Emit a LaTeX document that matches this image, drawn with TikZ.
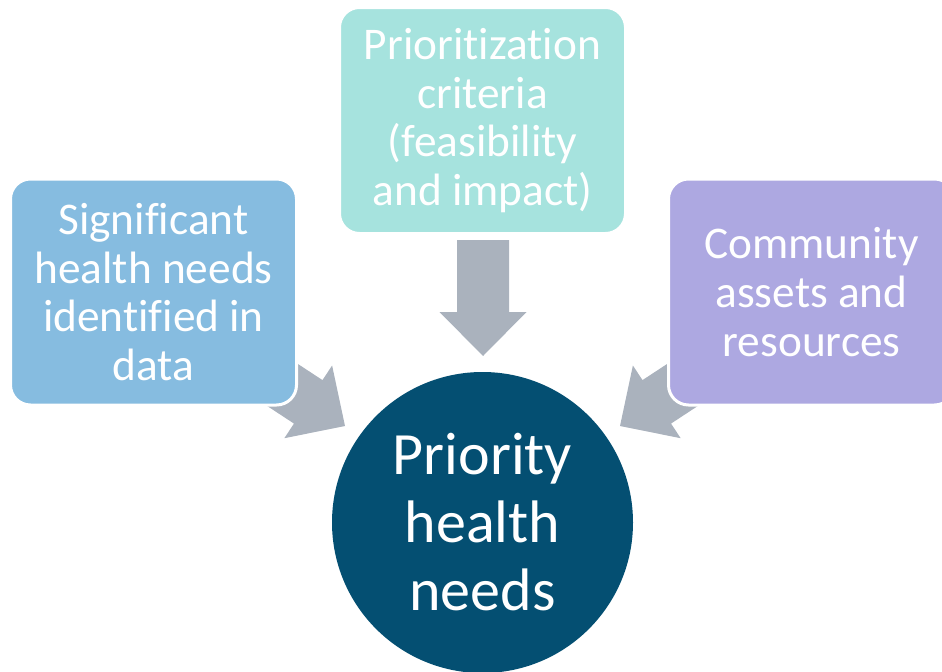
\documentclass[tikz,border=0pt]{standalone}
\usepackage{fontspec}
\setmainfont[Ligatures=NoCommon]{Carlito}
\definecolor{boxblue}{RGB}{134,188,224}
\definecolor{boxteal}{RGB}{166,227,222}
\definecolor{boxlav}{RGB}{173,168,225}
\definecolor{arrowgray}{RGB}{170,178,189}
\definecolor{navy}{RGB}{4,79,114}
\tikzset{
  boxnode/.style={rectangle, rounded corners=15pt, draw=white, line width=2.25pt,
    minimum width=214.5pt, minimum height=169.5pt, inner sep=0pt,
    text=white, align=center, font=\fontsize{34}{36.5}\selectfont},
  bignode/.style={circle, fill=navy, minimum size=225.75pt, inner sep=0pt,
    text=white, align=center, font=\fontsize{45}{51}\selectfont},
  blockarrow/.style={fill=arrowgray}
}
\newcommand{\blockarrowpath}{(0,0) -- (-44,43.5) -- (-44,26) -- (-116,26) -- (-116,-26) -- (-44,-26) -- (-44,-43.5) -- cycle}
\begin{document}
\begin{tikzpicture}[x=0.75pt,y=-0.75pt]
\useasboundingbox (0,0) rectangle (942,671);
\clip (0,0) rectangle (942,671);
% arrows
\begin{scope}[shift={(483,356)}, rotate=-90]
  \fill[blockarrow] \blockarrowpath;
\end{scope}
\begin{scope}[shift={(345,426)}, rotate=-33.3]
  \fill[blockarrow] \blockarrowpath;
\end{scope}
\begin{scope}[shift={(620,426)}, rotate=-146.7]
  \fill[blockarrow] \blockarrowpath;
\end{scope}
% boxes
\node[boxnode, fill=boxblue] (needs) at (153.5,292) {Significant\\health needs\\identified in\\data};
\node[boxnode, fill=boxteal] (criteria) at (482.5,120.5) {Prioritization\\criteria\\(feasibility\\and impact)};
\node[boxnode, fill=boxlav] (assets) at (811.5,292) {Community\\assets and\\resources};
% circle
\node[bignode] (priority) at (482.5,522.5) {Priority\\health\\needs};
\end{tikzpicture}
\end{document}
